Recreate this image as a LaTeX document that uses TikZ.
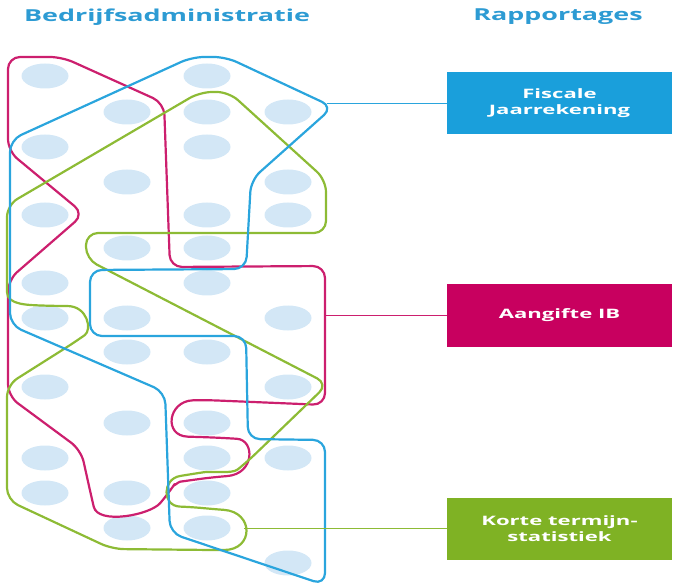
\documentclass[tikz,border=0pt]{standalone}
\usepackage{fontspec}
\setmainfont{Open Sans}
\definecolor{headblue}{HTML}{2D9BD3}
\definecolor{dotblue}{HTML}{D3E7F6}
\definecolor{lineblue}{HTML}{2AA5DD}
\definecolor{linemagenta}{HTML}{CC1F6E}
\definecolor{linegreen}{HTML}{8DBB35}
\definecolor{boxblue}{HTML}{1A9FDB}
\definecolor{boxmagenta}{HTML}{C8005F}
\definecolor{boxgreen}{HTML}{7FB224}
\tikzset{
  dot/.style={fill=dotblue, draw=none},
  track/.style={line width=2.2pt, rounded corners=12pt, line join=round},
  magline/.style={track, draw=linemagenta},
  blueline/.style={track, draw=lineblue},
  greenline/.style={track, draw=linegreen},
  heading/.style={text=headblue, font=\bfseries\fontsize{16.5}{18}\selectfont, xscale=1.63},
  report/.style={fill=#1, text=white, font=\bfseries\fontsize{13}{16}\selectfont,
    minimum width=132pt, minimum height=62pt, inner sep=0pt, align=center, xscale=1.7}
}
\begin{document}
\begin{tikzpicture}[x=1pt, y=-1pt]
    \useasboundingbox (0,0) rectangle (673,583);
    \node[heading] (admin) at (167,17) {Bedrijfsadministratie};
    \node[heading] (rapp) at (558,17) {Rapportages};
    \foreach \x/\y in {45/76, 207/76, 127/112, 207/112, 288/112, 45/147, 207/147,
        127/182, 288/182, 45/215, 207/215, 288/215, 127/248, 207/248, 45/283, 207/283,
        45/318, 127/318, 288/318, 127/352, 207/352, 45/387, 288/387, 127/423, 207/423,
        45/458, 207/458, 288/458, 45/493, 127/493, 207/493, 127/528, 207/528, 288/563}
      \fill[dot] (\x,\y) ellipse [x radius=23.5pt, y radius=12.5pt];
    \draw[magline] (8,110) -- (8,57) -- (62,57) -- (164,103) -- (170,267) -- (325,266)
      -- (325,405) -- (205,400)
      .. controls (168,401) and (163,436) .. (200,437) -- (225,438)
      .. controls (255,440) and (255,474) .. (215,477) -- (192,480)
      .. controls (178,482) and (172,488) .. (168,494)
      .. controls (150,515) and (98,525) .. (91,495)
      -- (81,450) -- (8,396) -- (8,280) -- (84,214) -- (8,151) -- cycle;
    \draw[greenline] (7,250) -- (7,205) -- (200,92) -- (229,92) -- (326,180) -- (326,233)
      -- (86,233) -- (86,259) -- (328,384) -- (247,462)
      .. controls (232,474) and (212,471) .. (192,474)
      .. controls (162,479) and (162,506) .. (192,507) -- (212,509)
      .. controls (254,512) and (254,550) .. (212,550)
      -- (112,549) -- (7,500) -- (7,385) -- (75,342)
      .. controls (92,330) and (88,306) .. (55,306)
      .. controls (28,305) and (7,305) .. (7,280) -- cycle;
    \draw[blueline] (10,200) -- (10,140) -- (192,57) -- (226,57) -- (333,107) -- (251,180)
      -- (246,269) -- (90,270) -- (90,336) -- (246,336) -- (248,439) -- (325,440)
      -- (325,585) -- (170,533) -- (165,392) -- (10,325) -- cycle;
    \node[report=boxblue] (fj) at (559.5,103.5) {Fiscale\\Jaarrekening};
    \node[report=boxmagenta] (ib) at (559.5,315.5) {Aangifte IB};
    \node[report=boxgreen] (kts) at (559.5,528.5) {Korte termijn-\\statistiek};
    \coordinate (fjend) at (327,103.5);
    \coordinate (ibend) at (325,315.5);
    \coordinate (ktsend) at (244,528.5);
    \draw[lineblue, line width=1.3pt] (fjend) -- (fj.west);
    \draw[linemagenta, line width=1.3pt] (ibend) -- (ib.west);
    \draw[linegreen, line width=1.3pt] (ktsend) -- (kts.west);
\end{tikzpicture}
\end{document}
